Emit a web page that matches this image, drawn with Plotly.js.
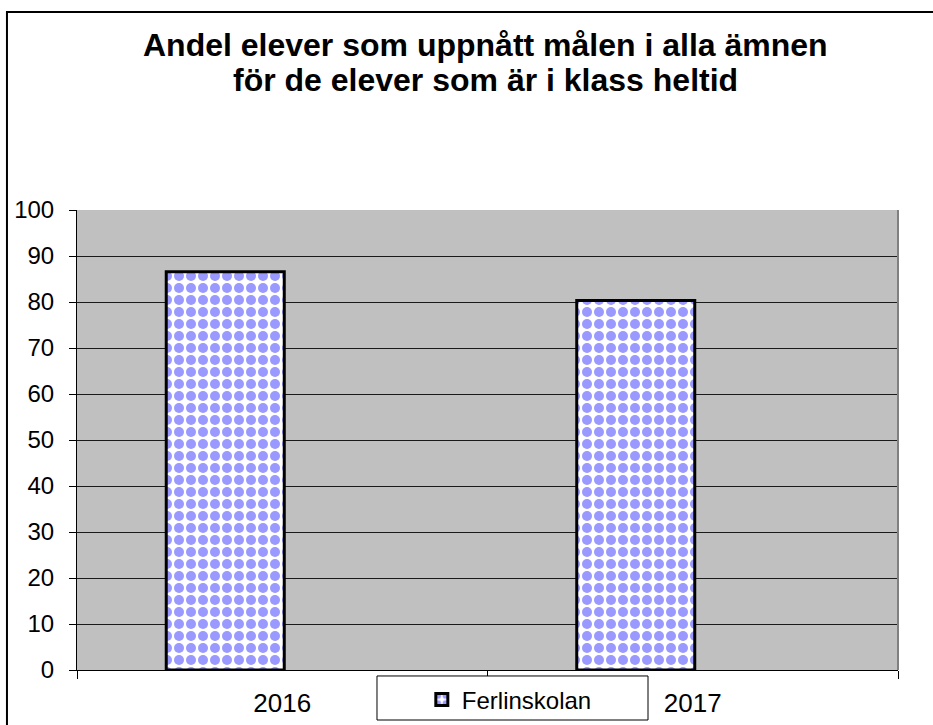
<!DOCTYPE html>
<html>
<head>
<meta charset="utf-8">
<script src="https://cdn.plot.ly/plotly-3.0.1.min.js"></script>
<style>
  html, body { margin: 0; padding: 0; background: #ffffff; }
  #chart { width: 933px; height: 725px; }
</style>
</head>
<body>
<div id="chart"></div>
<script>
// Data
const categories = ["2016", "2017"];
const seriesName = "Ferlinskolan";
const seriesValues = [86.6, 80.3];
const yTickValues = [0, 10, 20, 30, 40, 50, 60, 70, 80, 90, 100];
const titleLines = [
  "Andel elever som uppnått målen i alla ämnen",
  "för de elever som är i klass heltid"
];

const fontFamily = "Liberation Sans, Arial, sans-serif";

const trace = {
  type: "bar",
  name: seriesName,
  x: categories,
  y: seriesValues,
  width: 0.2875,
  offset: -0.2826,
  marker: {
    color: "#ffffff",
    line: { color: "#000000", width: 3 },
    pattern: {
      shape: ".",
      fgcolor: "#9999FF",
      bgcolor: "#ffffff",
      size: 12,
      solidity: 0.55,
      fillmode: "replace"
    }
  },
  hoverinfo: "x+y"
};

const titleY = [1.3587, 1.2826];

const layout = {
  width: 933,
  height: 725,
  margin: { l: 77, r: 35, t: 210, b: 55, pad: 0, autoexpand: false },
  paper_bgcolor: "#ffffff",
  plot_bgcolor: "#C0C0C0",
  font: { family: fontFamily, color: "#000000" },
  showlegend: true,
  legend: {
    x: 0.420,
    xanchor: "left",
    y: -0.065,
    yanchor: "middle",
    bgcolor: "rgba(0,0,0,0)",
    borderwidth: 0,
    font: { family: fontFamily, size: 24, color: "#000000" }
  },
  xaxis: {
    type: "category",
    range: [-0.5, 1.5],
    automargin: false,
    tickson: "boundaries",
    ticks: "outside",
    ticklen: 8,
    tickwidth: 1,
    tickcolor: "#000000",
    showline: true,
    linecolor: "#000000",
    linewidth: 1,
    showgrid: false,
    zeroline: false,
    ticklabelstandoff: 10,
    tickfont: { family: fontFamily, size: 26, color: "#000000" },
    fixedrange: true
  },
  yaxis: {
    range: [0, 100],
    automargin: false,
    tickvals: yTickValues,
    ticktext: yTickValues.map(String),
    ticks: "outside",
    ticklen: 7,
    tickwidth: 1,
    tickcolor: "#000000",
    showline: true,
    linecolor: "#000000",
    linewidth: 1,
    showgrid: true,
    gridcolor: "#1a1a1a",
    gridwidth: 1,
    zeroline: false,
    ticklabelstandoff: 10,
    tickfont: { family: fontFamily, size: 24, color: "#000000" },
    fixedrange: true
  },
  annotations: titleLines.map((t, i) => ({
    text: "<b>" + t + "</b>",
    xref: "paper", yref: "paper",
    x: 0.4976, y: titleY[i],
    xanchor: "center", yanchor: "middle",
    showarrow: false,
    font: { family: fontFamily, size: 32, color: "#000000" }
  })),
  shapes: [
    // outer chart frame
    {
      type: "rect", xref: "paper", yref: "paper",
      x0: -0.0853, x1: 1.2, y0: -0.3, y1: 1.4304,
      line: { color: "#000000", width: 2 },
      fillcolor: "rgba(0,0,0,0)",
      layer: "below"
    },
    // right edge of plot area
    {
      type: "line", xref: "paper", yref: "paper",
      x0: 1, x1: 1, y0: 0, y1: 1,
      line: { color: "#808080", width: 2 }
    },
    // legend box
    {
      type: "rect", xref: "paper", yref: "paper",
      x0: 0.3654, x1: 0.6955, y0: -0.1087, y1: -0.013,
      line: { color: "#000000", width: 1 },
      fillcolor: "#ffffff",
      layer: "above"
    }
  ]
};

Plotly.newPlot("chart", [trace], layout, { displayModeBar: false, staticPlot: true });
</script>
</body>
</html>
